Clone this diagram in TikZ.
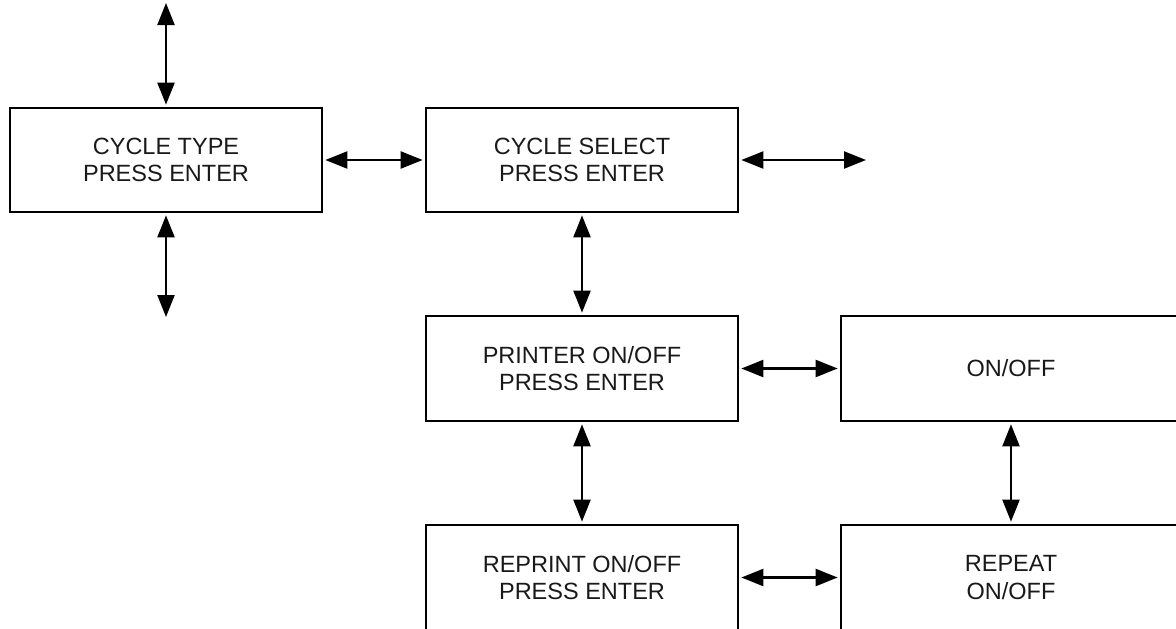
\documentclass[tikz,border=0pt]{standalone}
\usepackage{fontspec}
\setmainfont{Liberation Sans}
\usetikzlibrary{arrows.meta}
\tikzset{
  menubox/.style={draw=black, line width=2.7pt, fill=white, inner sep=0pt,
    align=center, font=\fontsize{23.5}{27.5}\selectfont, text=black!90},
  link/.style={line width=2.2pt, {Triangle[length=22pt,width=17pt]}-{Triangle[length=22pt,width=17pt]},
    shorten <=2pt, shorten >=2pt}
}
\begin{document}
\begin{tikzpicture}[x=1pt,y=-1pt]
  \useasboundingbox (0,0) rectangle (1176,629);
  \clip (0,0) rectangle (1176,629);
  % menu screens
  \node[menubox, minimum width=312pt, minimum height=104pt] (ctype) at (166,160) {CYCLE TYPE\\PRESS ENTER};
  \node[menubox, minimum width=312pt, minimum height=104pt] (csel) at (582,160) {CYCLE SELECT\\PRESS ENTER};
  \node[menubox, minimum width=312pt, minimum height=105pt] (prn) at (582,368.5) {PRINTER ON/OFF\\PRESS ENTER};
  \node[menubox, minimum width=340pt, minimum height=105pt] (onoff) at (1011,368.5) {ON/OFF};
  \node[menubox, minimum width=312pt, minimum height=105pt] (reprn) at (582,577.5) {REPRINT ON/OFF\\PRESS ENTER};
  \node[menubox, minimum width=340pt, minimum height=105pt] (rep) at (1011,577.5) {REPEAT\\ON/OFF};
  % open ends of the menu loop
  \coordinate (up) at (166,3);
  \coordinate (down) at (166,317);
  \coordinate (next) at (866,160);
  % navigation
  \draw[link, shorten <=0pt] (up) -- (ctype.north);
  \draw[link, shorten >=0pt] (ctype.south) -- (down);
  \draw[link] (ctype.east) -- (csel.west);
  \draw[link, shorten >=0pt] (csel.east) -- (next);
  \draw[link] (csel.south) -- (prn.north);
  \draw[link] (prn.east) -- (onoff.west);
  \draw[link] (prn.south) -- (reprn.north);
  \draw[link] (onoff.south) -- (rep.north);
  \draw[link] (reprn.east) -- (rep.west);
\end{tikzpicture}
\end{document}
